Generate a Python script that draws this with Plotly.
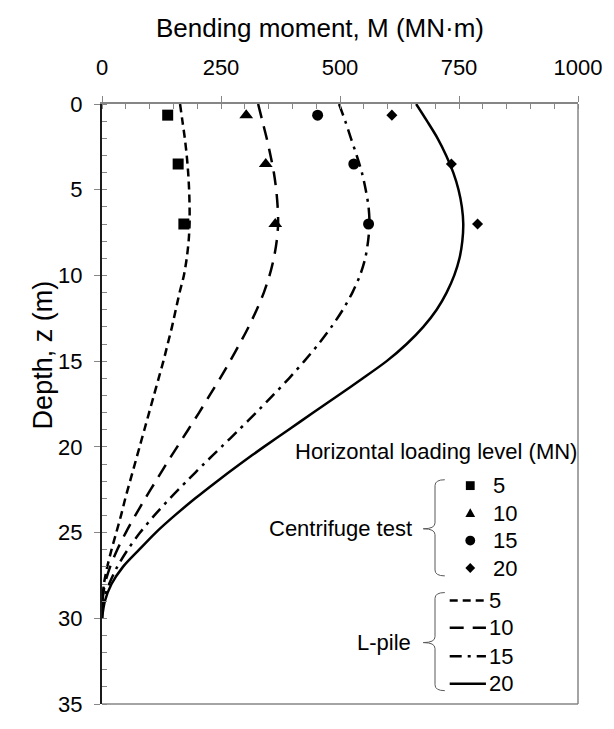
import plotly.graph_objects as go

# ---------------- data ----------------
depth_test = [0.65, 3.5, 7.0]
test_5 = [138, 160, 172]
test_10 = [303, 344, 364]
test_15 = [453, 529, 560]
test_20 = [609, 734, 789]

depth_lpile = [0, 1, 2, 3, 4, 5, 6, 7, 8, 9, 10, 11, 12, 13, 14, 15, 16, 17, 18, 19,
               20, 21, 22, 23, 24, 25, 26, 27, 28, 29, 30]
lpile_5 = [164, 169, 174, 178, 181, 183, 184, 184, 182, 178, 172, 163, 155, 147, 138, 129,
           119, 109, 99, 89, 79, 69, 59, 49, 40, 30, 20, 11, 4, 1, 0]
lpile_10 = [328, 337, 346, 354, 361, 366, 369, 370, 367, 361, 352, 340, 325, 308, 289, 269,
            248, 226, 204, 181, 158, 135, 113, 91, 70, 50, 32, 17, 6, 1, 0]
lpile_15 = [498, 511, 523, 535, 546, 554, 560, 562, 559, 553, 542, 526, 506, 482, 455, 425,
            393, 359, 324, 288, 251, 214, 178, 143, 110, 80, 54, 32, 15, 3, 0]
lpile_20 = [660, 683, 705, 723, 738, 749, 756, 759, 757, 751, 740, 724, 703, 675, 640, 598,
            548, 496, 444, 392, 340, 290, 242, 196, 153, 113, 78, 44, 20, 6, 0]

load_labels = ["5", "10", "15", "20"]
x_ticks = [0, 250, 500, 750, 1000]
y_ticks = [0, 5, 10, 15, 20, 25, 30, 35]

FONT = "Liberation Sans, Arial, sans-serif"
W, H = 614, 729
L, R, T, B = 102, 26, 104, 13.4
PW, PH = W - L - R, H - T - B


def px(x):
    return (x - L) / PW


def py(y):
    return (H - B - y) / PH


fig = go.Figure()

markers = ["square", "triangle-up", "circle", "diamond"]
msizes = [11, 12, 11, 8.5]
tests = [test_5, test_10, test_15, test_20]
for lab, vals, sym, ms in zip(load_labels, tests, markers, msizes):
    fig.add_trace(go.Scatter(
        x=vals, y=depth_test, mode="markers", name="Centrifuge " + lab, showlegend=False,
        marker=dict(symbol=sym, size=ms, color="black"),
    ))

dashes = ["8px,5px", "14px,9px", "12px,6px,3px,6px", "solid"]
lpiles = [lpile_5, lpile_10, lpile_15, lpile_20]
for lab, vals, d in zip(load_labels, lpiles, dashes):
    fig.add_trace(go.Scatter(
        x=vals, y=depth_lpile, mode="lines", name="L-pile " + lab, showlegend=False,
        line=dict(color="black", width=2.5, dash=d, shape="spline", smoothing=0.8),
    ))

# invisible trace for overlay axes (inside major ticks)
fig.add_trace(go.Scatter(x=[None], y=[None], xaxis="x2", yaxis="y2",
                         showlegend=False, hoverinfo="skip"))

GRAY = "#868686"
fig.update_layout(
    width=W, height=H,
    margin=dict(l=L, r=R, t=T, b=B),
    paper_bgcolor="white", plot_bgcolor="white",
    font=dict(family=FONT, color="black", size=22),
    showlegend=False,
    xaxis=dict(
        side="top", range=[0, 1000], tickvals=x_ticks, showgrid=False, zeroline=False,
        showline=True, linecolor=GRAY, linewidth=1.5,
        ticks="outside", ticklen=6, tickcolor=GRAY, tickwidth=1.2,
        minor=dict(dtick=50, ticks="inside", ticklen=5, tickcolor=GRAY, tickwidth=1.2),
        tickfont=dict(size=22), ticklabelstandoff=12,
    ),
    yaxis=dict(
        range=[35, 0], tickvals=y_ticks, showgrid=False, zeroline=False,
        showline=True, linecolor="#1a1a1a", linewidth=2,
        ticks="outside", ticklen=6, tickcolor=GRAY, tickwidth=1.2,
        minor=dict(dtick=1, ticks="inside", ticklen=5, tickcolor=GRAY, tickwidth=1.2),
        tickfont=dict(size=22), ticklabelstandoff=7,
    ),
    xaxis2=dict(overlaying="x", side="top", anchor="y", range=[0, 1000], tickvals=x_ticks,
                ticks="inside", ticklen=5, tickcolor=GRAY, tickwidth=1.2,
                showticklabels=False, showgrid=False, zeroline=False, showline=False),
    yaxis2=dict(overlaying="y", side="left", anchor="x", range=[35, 0], tickvals=y_ticks,
                ticks="inside", ticklen=5, tickcolor=GRAY, tickwidth=1.2,
                showticklabels=False, showgrid=False, zeroline=False, showline=False),
)

# frame right & bottom
fig.add_shape(type="line", xref="paper", yref="paper", x0=1, x1=1, y0=0, y1=1,
              line=dict(color=GRAY, width=1.5))
fig.add_shape(type="line", xref="paper", yref="paper", x0=0, x1=1, y0=0, y1=0,
              line=dict(color=GRAY, width=1.5))


def brace(xe, xv, xt, y0, yt, y1):
    pts = (f"M {px(xe)},{py(y0)} Q {px(xv)},{py(y0)} {px(xv)},{py(y0+6)} "
           f"L {px(xv)},{py(yt-6)} Q {px(xv)},{py(yt)} {px(xt)},{py(yt)} "
           f"Q {px(xv)},{py(yt)} {px(xv)},{py(yt+6)} "
           f"L {px(xv)},{py(y1-6)} Q {px(xv)},{py(y1)} {px(xe)},{py(y1)}")
    fig.add_shape(type="path", xref="paper", yref="paper", path=pts,
                  line=dict(color="#595959", width=1))


brace(452, 442, 430, 487, 537, 585)
brace(452, 442, 430, 602, 653, 702)

# ---- legend (drawn manually) ----
ann = dict(xref="paper", yref="paper", showarrow=False, font=dict(family=FONT, size=22))
leg_marker_y = [493, 521, 549, 577]
leg_line_y = [610, 638, 667, 695]
mx = 478
blk = dict(color="black", width=0)


def poly(points):
    s = "M " + " L ".join(f"{px(a)},{py(b)}" for a, b in points) + " Z"
    return s


# square
y = leg_marker_y[0]
fig.add_shape(type="rect", xref="paper", yref="paper", x0=px(mx - 4.5), x1=px(mx + 4.5),
              y0=py(y + 4.5), y1=py(y - 4.5), fillcolor="black", line=blk)
# triangle
y = leg_marker_y[1]
fig.add_shape(type="path", xref="paper", yref="paper",
              path=poly([(mx - 5, y + 4), (mx + 5, y + 4), (mx, y - 5)]),
              fillcolor="black", line=blk)
# circle
y = leg_marker_y[2]
fig.add_shape(type="circle", xref="paper", yref="paper", x0=px(mx - 5), x1=px(mx + 5),
              y0=py(y + 5), y1=py(y - 5), fillcolor="black", line=blk)
# diamond
y = leg_marker_y[3]
fig.add_shape(type="path", xref="paper", yref="paper",
              path=poly([(mx - 5, y), (mx, y - 5), (mx + 5, y), (mx, y + 5)]),
              fillcolor="black", line=blk)

for lab, y in zip(load_labels, leg_marker_y):
    fig.add_annotation(text=lab, x=px(499), y=py(y), xanchor="left", yanchor="middle", **ann)

for lab, y, d in zip(load_labels, leg_line_y, dashes):
    fig.add_shape(type="line", xref="paper", yref="paper", x0=px(457), x1=px(494),
                  y0=py(y), y1=py(y), line=dict(color="black", width=2.5, dash=d))
    fig.add_annotation(text=lab, x=px(495), y=py(y), xanchor="left", yanchor="middle", **ann)

fig.add_annotation(text="Horizontal loading level (MN)", x=px(443), y=py(458),
                   xanchor="center", yanchor="middle", **ann)
fig.add_annotation(text="Centrifuge test", x=px(421), y=py(537),
                   xanchor="right", yanchor="middle", **ann)
fig.add_annotation(text="L-pile", x=px(420), y=py(653),
                   xanchor="right", yanchor="middle", **ann)
fig.add_annotation(text="Bending moment, M (MN·m)", x=px(325), y=py(27),
                   xanchor="center", yanchor="middle", xref="paper", yref="paper",
                   showarrow=False, font=dict(family=FONT, size=26))
fig.add_annotation(text="Depth, z (m)", x=px(42), y=py(360), textangle=-90,
                   xanchor="center", yanchor="middle", xref="paper", yref="paper",
                   showarrow=False, font=dict(family=FONT, size=27))

fig.write_html("out.html")
